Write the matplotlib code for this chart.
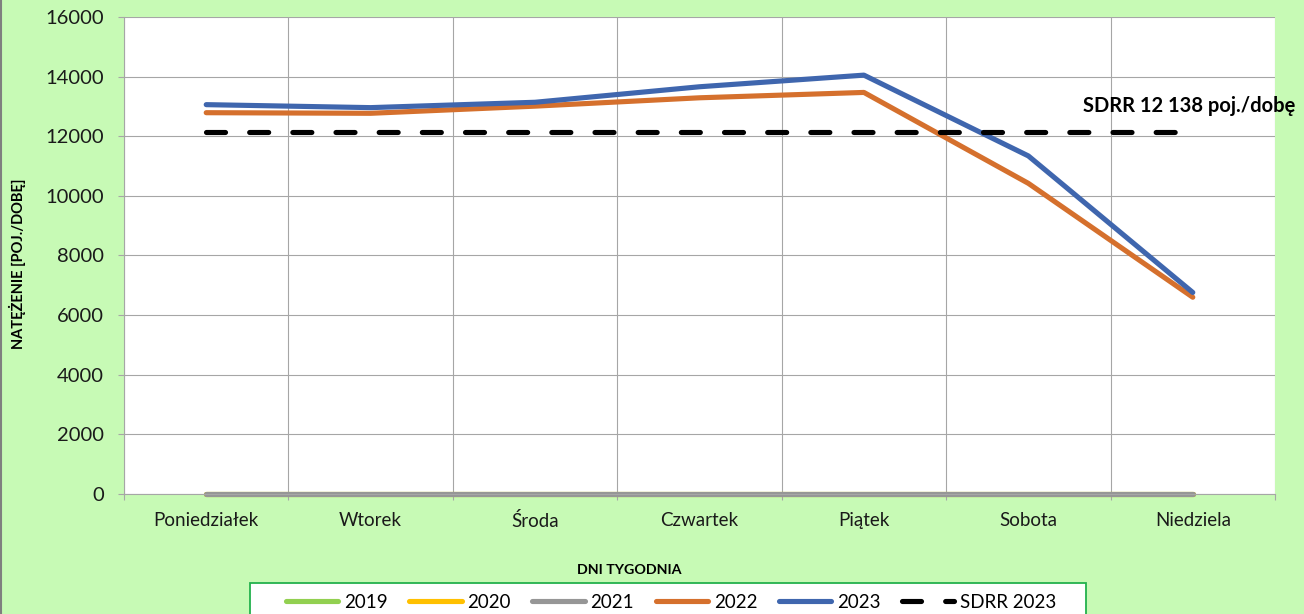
import matplotlib
matplotlib.use("Agg")
import matplotlib.pyplot as plt
from matplotlib.patches import Rectangle
from matplotlib.lines import Line2D

plt.rcParams['font.family'] = ['Lato', 'DejaVu Sans']

# data
days = ['Poniedziałek', 'Wtorek', 'Środa', 'Czwartek', 'Piątek', 'Sobota', 'Niedziela']
v2019 = [0, 0, 0, 0, 0, 0, 0]
v2020 = [0, 0, 0, 0, 0, 0, 0]
v2021 = [0, 0, 0, 0, 0, 0, 0]
v2022 = [12790, 12770, 13010, 13290, 13470, 10420, 6600]
v2023 = [13060, 12960, 13140, 13660, 14050, 11340, 6760]
sdrr = [12138, 12138, 12138, 12138, 12138, 12138, 12138]
sdrr_label = 'SDRR 12 138 poj./dobę'

BG = '#C7FAB5'
GRID = '#A6A6A6'

fig = plt.figure(figsize=(13.04, 6.14), dpi=100, facecolor=BG)
ax = fig.add_axes([124 / 1304, 1 - 494 / 614, 1151 / 1304, 477 / 614])
ax.set_facecolor('white')

x = range(len(days))
lw = 3.7
ax.plot(x, v2019, color='#92D050', lw=lw, solid_capstyle='round', label='2019', clip_on=False)
ax.plot(x, v2020, color='#FFC000', lw=lw, solid_capstyle='round', label='2020', clip_on=False)
ax.plot(x, v2021, color='#969696', lw=lw, solid_capstyle='round', label='2021', clip_on=False)
ax.plot(x, v2022, color='#D5702D', lw=lw, solid_capstyle='round', label='2022')
ax.plot(x, v2023, color='#3F66AE', lw=lw, solid_capstyle='round', label='2023')
l_sdrr, = ax.plot(x, sdrr, color='black', lw=lw, dash_capstyle='round', label='SDRR 2023')
l_sdrr.set_dashes([3.7, 4.7])

ax.text(5.33, sdrr[0] + 860, sdrr_label, fontsize=14.5, fontweight='bold',
        va='center', ha='left', clip_on=False)

# axes and grid
ax.set_xlim(-0.5, len(days) - 0.5)
ax.set_ylim(0, 16000)
ax.set_yticks(range(0, 16001, 2000))
ax.set_xticks(list(x))
ax.set_xticklabels(days)
ax.set_xticks([i - 0.5 for i in range(len(days) + 1)], minor=True)
ax.tick_params(axis='x', which='major', length=0, pad=13, labelsize=13.5, colors='#1a1a1a')
ax.tick_params(axis='x', which='minor', length=4.5, color=GRID, width=0.8)
ax.tick_params(axis='y', length=4.5, color=GRID, width=0.8, pad=10, labelsize=14.5, labelcolor='#1a1a1a')
ax.grid(axis='y', which='major', color=GRID, lw=0.8)
ax.grid(axis='x', which='minor', color=GRID, lw=0.8)
ax.set_axisbelow(True)
for s in ['top', 'right']:
    ax.spines[s].set_visible(False)
for s in ['left', 'bottom']:
    ax.spines[s].set_color(GRID)
    ax.spines[s].set_linewidth(0.8)

fig.text(17 / 1304, 1 - 264 / 614, 'NATĘŻENIE [POJ./DOBĘ]', rotation=90,
         fontsize=10.5, fontweight='bold', ha='center', va='center')
fig.text(629 / 1304, 1 - 570 / 614, 'DNI TYGODNIA', fontsize=10.3,
         fontweight='bold', ha='center', va='center')

# legend box
fig.add_artist(Rectangle((250 / 1304, -0.05), 836 / 1304, 0.05 + 1 - 583 / 614,
                         transform=fig.transFigure, facecolor='white',
                         edgecolor='#22B14C', lw=1.3, zorder=1))
fig.legend(loc='center', bbox_to_anchor=(671 / 1304, 1 - 602 / 614),
           bbox_transform=fig.transFigure, ncol=6, frameon=False,
           fontsize=13.5, handlelength=2.8, handletextpad=0.3,
           columnspacing=1.15, borderpad=0)

# left border of chart
fig.add_artist(Line2D([1 / 1304, 1 / 1304], [0, 1], transform=fig.transFigure,
                      color='#7F7F7F', lw=1.5))

fig.savefig('out.png', dpi=100, facecolor=BG)
